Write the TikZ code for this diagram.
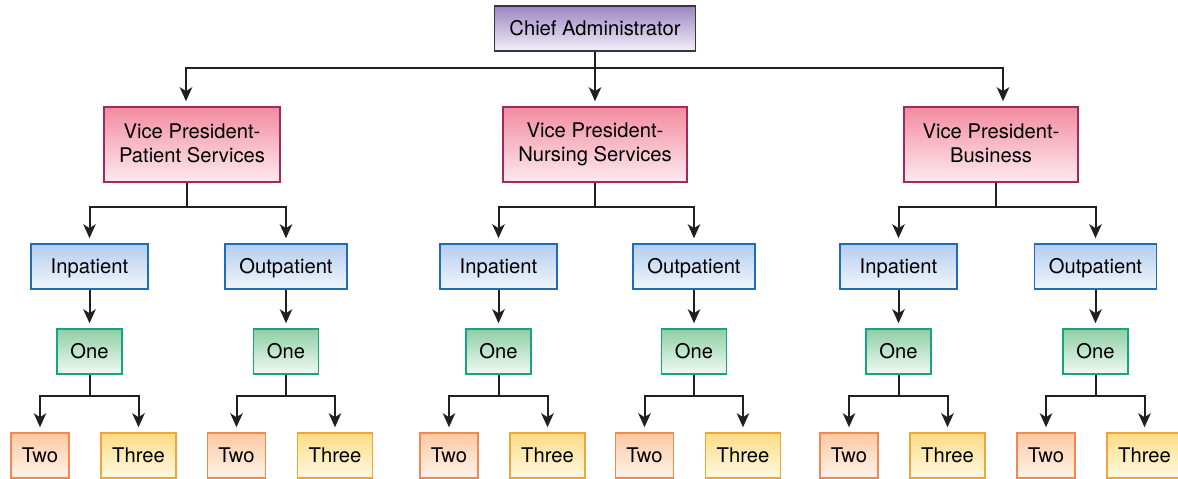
\documentclass[tikz,border=0pt]{standalone}
\usepackage{fontspec}
\setmainfont{TeX Gyre Heros}
\usetikzlibrary{arrows.meta}
\definecolor{lnc}{HTML}{231F20}
\definecolor{chT}{HTML}{9B86C2}\definecolor{chB}{HTML}{F3EFF8}\definecolor{chD}{HTML}{3A3342}
\definecolor{vpT}{HTML}{F28CA0}\definecolor{vpB}{HTML}{FDEAEF}\definecolor{vpD}{HTML}{A3285E}
\definecolor{blT}{HTML}{B5CDEE}\definecolor{blB}{HTML}{F1F6FC}\definecolor{blD}{HTML}{1F6DB5}
\definecolor{grT}{HTML}{8FCFA5}\definecolor{grB}{HTML}{F0FAF3}\definecolor{grD}{HTML}{17A57E}
\definecolor{twT}{HTML}{FCC9A3}\definecolor{twB}{HTML}{FFF3EA}\definecolor{twD}{HTML}{F08A4F}
\definecolor{thT}{HTML}{FDDC85}\definecolor{thB}{HTML}{FFF8E2}\definecolor{thD}{HTML}{F0A43A}
\newcommand{\mystrut}{\rule[-3pt]{0pt}{20.6pt}}
\tikzset{
  box/.style={rectangle, inner sep=0pt, line width=1.6pt, align=center,
    font=\fontsize{20.2}{24.5}\selectfont, text=black, minimum height=45pt,
    execute at begin node=\mystrut, execute at end node=\mystrut},
  chiefbox/.style={box, draw=chD, top color=chT, bottom color=chB, minimum width=201pt},
  vpbox/.style={box, draw=vpD, top color=vpT, bottom color=vpB, minimum height=75pt},
  divbox/.style={box, draw=blD, top color=blT, bottom color=blB},
  onebox/.style={box, draw=grD, top color=grT, bottom color=grB, minimum width=65pt},
  twobox/.style={box, draw=twD, top color=twT, bottom color=twB, minimum width=58pt},
  threebox/.style={box, draw=thD, top color=thT, bottom color=thB, minimum width=75pt},
  ln/.style={draw=lnc, line width=2pt},
  arr/.style={ln, -{Stealth[length=14pt,width=12.5pt,inset=4pt]}, shorten >=5pt},
}
\begin{document}
\begin{tikzpicture}[x=1pt,y=-1pt]
\useasboundingbox (0,0) rectangle (1178,479);
% top level
\node[chiefbox] (chief) at (595,28.5) {Chief Administrator};
\node[vpbox, minimum width=176pt] (vp1) at (192,144.5) {Vice President-\\Patient Services};
\node[vpbox, minimum width=184pt] (vp2) at (595,144.5) {Vice President-\\Nursing Services};
\node[vpbox, minimum width=174pt] (vp3) at (991,144.5) {Vice President-\\Business};
\coordinate (b0) at (595,67.5);
\draw[arr] (chief.south) -- (vp2.north);
\draw[arr] (b0) -| ([xshift=-6pt]vp1.north);
\draw[arr] (b0) -| ([xshift=12pt]vp3.north);
% divisions
\foreach \g/\ci/\co/\vp/\bx in {1/89.5/286/vp1/187, 2/498.5/694/vp2/595, 3/898.5/1095.5/vp3/996}{
  \node[divbox, minimum width=117pt] (in\g) at (\ci,266.5) {Inpatient};
  \node[divbox, minimum width=122pt] (out\g) at (\co,266.5) {Outpatient};
  \coordinate (bv\g) at (\bx,207);
  \draw[ln] (bv\g |- \vp.south) -- (bv\g);
  \draw[arr] (bv\g) -| (in\g.north);
  \draw[arr] (bv\g) -| (out\g.north);
  \foreach \d/\c in {in/\ci, out/\co}{
    \node[onebox] (one\d\g) at (\c,351.5) {One};
    \draw[arr] (\d\g.south) -- (one\d\g.north);
    \node[twobox] (two\d\g) at (\c-49.5,455.5) {Two};
    \node[threebox] (three\d\g) at (\c+49,455.5) {Three};
    \coordinate (bo\d\g) at (\c,396);
    \draw[ln] (one\d\g.south) -- (bo\d\g);
    \draw[arr] (bo\d\g) -| (two\d\g.north);
    \draw[arr] (bo\d\g) -| (three\d\g.north);
  }
}
\end{tikzpicture}
\end{document}
